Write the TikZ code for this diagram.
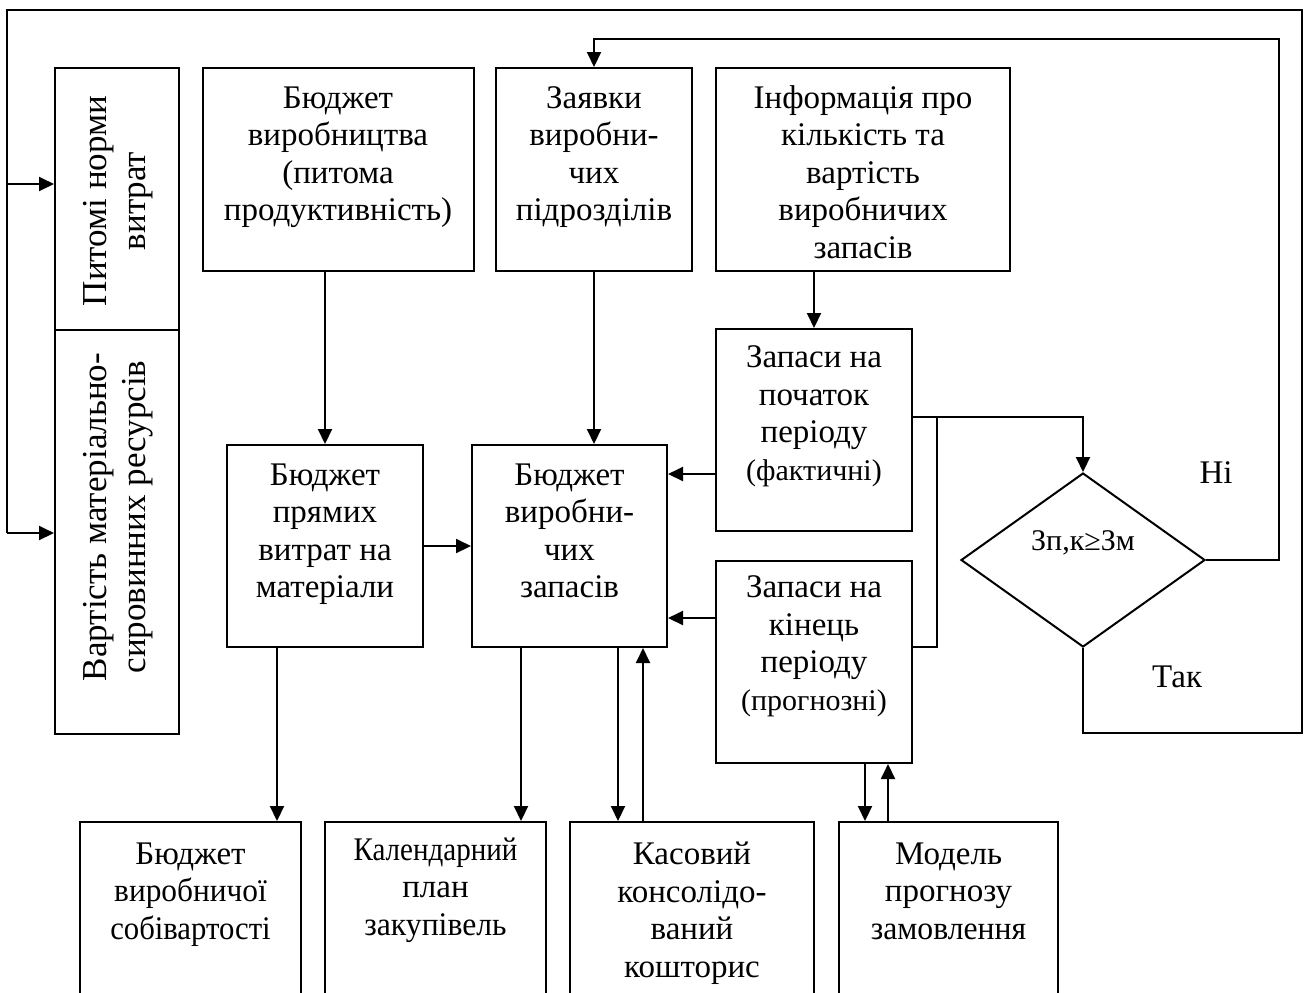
\documentclass[tikz,border=0pt]{standalone}
\usepackage{fontspec}
\usepackage{graphicx}
\setmainfont{Liberation Serif}
\usetikzlibrary{arrows.meta,shapes.geometric}
\newcommand{\sqz}[2]{\scalebox{#1}[1]{#2}}
\begin{document}
\begin{tikzpicture}[x=0.5pt,y=-0.5pt,
  box/.style={draw,line width=1pt,inner sep=0pt},
  lbl/.style={align=center,inner sep=0pt,font=\fontsize{16.5pt}{18.75pt}\selectfont},
  rlbl/.style={align=center,inner sep=0pt,rotate=90,font=\fontsize{17.5pt}{19.5pt}\selectfont},
  sm/.style={font=\fontsize{15pt}{18.75pt}\selectfont},
  ln/.style={line width=1pt},
  arr/.style={ln,-{Triangle[length=7.5pt,width=7pt]}}]
\useasboundingbox (0,0) rectangle (1304,992);
\clip (0,0) rectangle (1304,992);
% boxes
\node[box,minimum width=62pt,minimum height=131pt] (pn) at (117,199) {};
\node[box,minimum width=62pt,minimum height=202pt] (vr) at (117,532) {};
\node[box,minimum width=135.5pt,minimum height=101.5pt] (bv) at (338,169.5) {};
\node[box,minimum width=98pt,minimum height=101.5pt] (zv) at (594,169.5) {};
\node[box,minimum width=147pt,minimum height=101.5pt] (inf) at (863,169.5) {};
\node[box,minimum width=98pt,minimum height=101pt] (pm) at (325,546) {};
\node[box,minimum width=97.5pt,minimum height=101pt] (bz) at (569.5,546) {};
\node[box,minimum width=98pt,minimum height=101pt] (zp) at (814,430) {};
\node[box,minimum width=98pt,minimum height=101pt] (zk) at (814,662) {};
\node[diamond,draw,line width=1pt,inner sep=0pt,minimum width=122pt,minimum height=87pt] (dm) at (1083,560) {};
\node[box,minimum width=110.5pt,minimum height=94pt] (b1) at (190.5,916) {};
\node[box,minimum width=110.5pt,minimum height=94pt] (b2) at (435.5,916) {};
\node[box,minimum width=122pt,minimum height=94pt] (b3) at (692,916) {};
\node[box,minimum width=109.5pt,minimum height=94pt] (b4) at (948.5,916) {};
% texts (anchor=base = baseline of the last line)
\node[rlbl] (tpn) at (118,201) {Питомі норми\\витрат};
\node[rlbl] (tvr) at (118,517) {Вартість матеріально-\\сировинних ресурсів};
\node[lbl,anchor=base] (tbv) at (338,220.5) {Бюджет\\виробництва\\(питома\\продуктивність)};
\node[lbl,anchor=base] (tzv) at (594,220.5) {Заявки\\виробни-\\чих\\підрозділів};
\node[lbl,anchor=base] (tinf) at (863,258) {Інформація про\\кількість та\\вартість\\виробничих\\запасів};
\node[lbl,anchor=base] (tpm) at (325,597.5) {Бюджет\\прямих\\витрат на\\матеріали};
\node[lbl,anchor=base] (tbz) at (569.5,597.5) {Бюджет\\виробни-\\чих\\запасів};
\node[lbl,anchor=base] (tzp) at (814,480) {Запаси на\\початок\\періоду\\{\fontsize{15pt}{18.75pt}\selectfont(фактичні)}};
\node[lbl,anchor=base] (tzk) at (814,710) {Запаси на\\кінець\\періоду\\{\fontsize{15pt}{18.75pt}\selectfont(прогнозні)}};
\node[lbl,sm,anchor=base] (tdm) at (1083,550) {Зп,к≥Зм};
\node[lbl,anchor=base] (tni) at (1216,483) {Ні};
\node[lbl,anchor=base] (tta) at (1177,687) {Так};
\node[lbl,anchor=base] (tb1) at (190.5,939) {Бюджет\\\sqz{0.95}{виробничої}\\\sqz{0.93}{собівартості}};
\node[lbl,anchor=base] (tb2) at (435.5,935) {\sqz{0.88}{Календарний}\\план\\\sqz{0.96}{закупівель}};
\node[lbl,anchor=base] (tb3) at (692,977) {Касовий\\консолідо-\\ваний\\кошторис};
\node[lbl,anchor=base] (tb4) at (948.5,939) {Модель\\прогнозу\\\sqz{0.96}{замовлення}};
% coordinates
\coordinate (cTL) at (7,10);
\coordinate (cTR) at (1302,10);
\coordinate (cBR) at (1302,733);
\coordinate (cL1) at (7,184);
\coordinate (cL2) at (7,533);
\coordinate (cNR) at (1279,560);
\coordinate (cNT) at (1279,39);
\coordinate (cJ) at (937,417);
% connectors
\draw[ln] (dm.south) |- (cBR) -- (cTR) -- (cTL) -- (cL2);
\draw[arr] (cL2) -- (vr.west |- cL2);
\draw[arr] (cL1) -- (pn.west |- cL1);
\draw[arr] (dm.east) -- (cNR) -- (cNT) -- (zv.north |- cNT) -- (zv.north);
\draw[arr] (pm.north |- bv.south) -- (pm.north);
\draw[arr] (zv.south) -- (zv.south |- bz.north);
\draw[arr] (zp.north |- inf.south) -- (zp.north);
\draw[arr] (pm.east) -- (bz.west);
\draw[arr] (zp.west |- 0,474) -- (bz.east |- 0,474);
\draw[arr] (zk.west |- 0,618) -- (bz.east |- 0,618);
\draw[arr] (zp.east |- cJ) -- (dm.north |- cJ) -- (dm.north);
\draw[ln] (zk.east |- 0,647) -| (cJ);
\draw[arr] (277,0 |- pm.south) -- (277,0 |- b1.north);
\draw[arr] (521,0 |- bz.south) -- (521,0 |- b2.north);
\draw[arr] (618,0 |- bz.south) -- (618,0 |- b3.north);
\draw[arr] (643,0 |- b3.north) -- (643,0 |- bz.south);
\draw[arr] (865,0 |- zk.south) -- (865,0 |- b4.north);
\draw[arr] (888,0 |- b4.north) -- (888,0 |- zk.south);
\end{tikzpicture}
\end{document}
